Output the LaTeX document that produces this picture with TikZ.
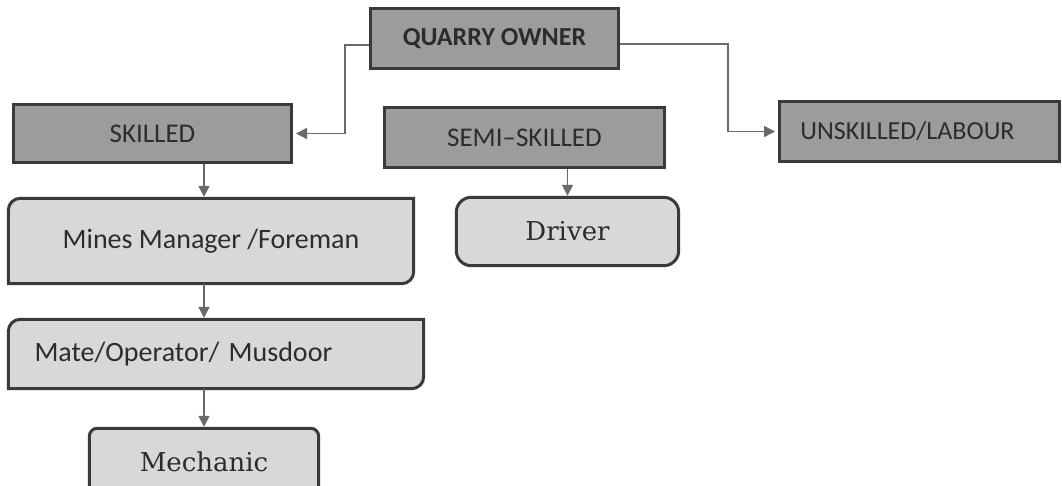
\documentclass[tikz,border=0pt]{standalone}
\usepackage{fontspec}
\setmainfont{Carlito}
\newfontfamily\serifc{DejaVu Serif}
\usetikzlibrary{arrows.meta}
\pgfdeclarelayer{bg}
\pgfsetlayers{bg,main}
\definecolor{hdrfill}{HTML}{9C9C9C}
\definecolor{lowfill}{HTML}{D8D8D8}
\definecolor{edge}{HTML}{3A3A3A}
\definecolor{linec}{HTML}{6A6A6A}
\definecolor{txt}{HTML}{2C2C2C}
\tikzset{
  hdrbox/.style={draw=edge, line width=3pt, fill=hdrfill, inner sep=0pt, text=txt, font=\fontsize{27}{30}\selectfont},
  lowbox/.style={draw=none, inner sep=0pt, text=txt},
  lowline/.style={draw=edge, line width=3pt, fill=lowfill},
  conn/.style={draw=linec, line width=1.5pt, -{Triangle[length=11pt,width=11pt]}, shorten >=3pt},
}
\begin{document}
\begin{tikzpicture}[x=1pt,y=1pt]
\useasboundingbox (0,0) rectangle (1062,486);
% header boxes
\node[hdrbox, minimum width=248pt, minimum height=60pt, font=\bfseries\fontsize{26}{30}\selectfont] (qo) at (494.5,447) {QUARRY OWNER};
\node[hdrbox, minimum width=278pt, minimum height=58pt] (sk) at (152.5,352.5) {SKILLED};
\node[hdrbox, minimum width=280pt, minimum height=60pt] (ss) at (524.5,348.5) {SEMI–SKILLED};
\node[hdrbox, minimum width=280pt, minimum height=60pt, font=\fontsize{26}{30}\selectfont] (un) at (919.5,354.5) {UNSKILLED/LABOUR\hspace*{24pt}};
% lower boxes
\node[lowbox, minimum width=405pt, minimum height=85pt, font=\fontsize{28}{32}\selectfont] (mm) at (211,245) {\raisebox{5pt}{Mines Manager /Foreman}};
\node[lowbox, minimum width=222pt, minimum height=68pt, font=\serifc\fontsize{26}{30}\selectfont] (dr) at (567.5,254.5) {Driver};
\node[lowbox, minimum width=415pt, minimum height=69pt, text width=363pt, align=left, font=\fontsize{28}{32}\selectfont] (mo) at (216,132) {Mate/Operator/ Musdoor};
\node[lowbox, minimum width=229pt, minimum height=70pt, font=\serifc\fontsize{26}{30}\selectfont] (me) at (204,22.5) {\raisebox{4pt}{Mechanic}};
\begin{pgfonlayer}{bg}
\fill[white] (0,0) rectangle (1062,486);
\filldraw[lowline] ([yshift=-12pt]mm.north west) arc[start angle=180,end angle=90,radius=12pt] -- (mm.north east) -- ([yshift=12pt]mm.south east) arc[start angle=0,end angle=-90,radius=12pt] -- (mm.south west) -- cycle;
\filldraw[lowline] ([yshift=-12pt]mo.north west) arc[start angle=180,end angle=90,radius=12pt] -- (mo.north east) -- ([yshift=12pt]mo.south east) arc[start angle=0,end angle=-90,radius=12pt] -- (mo.south west) -- cycle;
\filldraw[lowline, rounded corners=15pt] (dr.south west) rectangle (dr.north east);
\filldraw[lowline, rounded corners=8pt] (me.south west) rectangle (me.north east);
\end{pgfonlayer}
% connectors
\coordinate (lx) at (345,0);
\coordinate (rx) at (728,0);
\draw[conn] ([yshift=-6pt]qo.west) -| (lx |- sk.east) -- (sk.east);
\draw[conn] ([yshift=-5pt]qo.east) -| (rx |- un.west) -- (un.west);
\draw[conn, shorten >=1.5pt] (sk.south -| me.north) -- (me.north |- mm.north);
\draw[conn, shorten >=1.5pt] (ss.south -| dr.north) -- (dr.north);
\draw[conn, shorten >=1.5pt] (mm.south -| me.north) -- (me.north |- mo.north);
\draw[conn, shorten >=1.5pt] (mo.south -| me.north) -- (me.north);
\end{tikzpicture}
\end{document}
